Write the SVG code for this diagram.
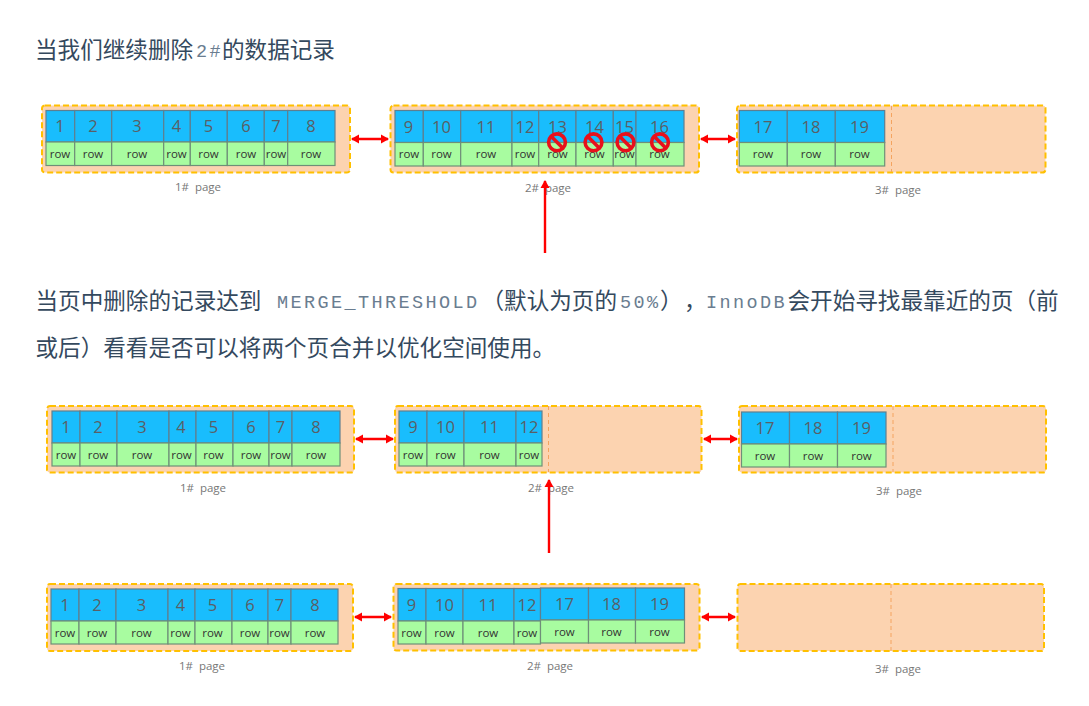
<svg xmlns="http://www.w3.org/2000/svg" width="1089" height="706" viewBox="0 0 1089 706">
<style>
.h{font-family:"Noto Sans CJK SC","Liberation Sans",sans-serif;font-size:22.6px;fill:#34495e}
.m{font-family:"Liberation Mono","Noto Sans CJK SC",monospace;font-size:18.5px;letter-spacing:2.4px;fill:#6a7d90}
.p{fill:#fcd3b0;stroke:#ffc000;stroke-width:2;stroke-dasharray:6 3}
.d{stroke:#f4a460;stroke-width:1;stroke-dasharray:4 3;fill:none}
.b{fill:#19bdfd;stroke:#5f7f8f;stroke-width:1.2}
.g{fill:#a8fca0;stroke:#6f8f78;stroke-width:1.2}
.n{font-family:"Open Sans","Liberation Sans",sans-serif;font-size:16.5px;fill:#5a5f66;text-anchor:middle}
.r{font-family:"Open Sans","Liberation Sans",sans-serif;font-size:11.5px;fill:#333;text-anchor:middle}
.c{font-family:"Open Sans","Liberation Sans",sans-serif;font-size:11.5px;fill:#777;text-anchor:middle;white-space:pre}
.a{stroke:#ff0000;stroke-width:2.4;fill:none}
.x circle{fill:none;stroke:#e8101c;stroke-width:3.6}
.x line{stroke:#e8101c;stroke-width:3.6}
</style>
<defs>
<marker id="ah" markerWidth="9" markerHeight="10" refX="7" refY="5" orient="auto-start-reverse" markerUnits="userSpaceOnUse"><path d="M0 0.5L8 5L0 9.5Z" fill="#ff0000"/></marker>
</defs>
<rect width="1089" height="706" fill="#fff"/>

<g id="text-1">
<text class="h" x="35" y="58">当我们继续删除</text>
<text class="m" x="196" y="57">2#</text>
<text class="h" x="222" y="58">的数据记录</text>
</g>
<g id="text-2">
<text class="h" x="35.500" y="309">当页中删除的记录达到</text>
<text class="m" x="277" y="308">MERGE_THRESHOLD</text>
<text class="h" x="481.500" y="309">（默认为页的</text>
<text class="m" x="620" y="308">50%</text>
<text class="h" x="660" y="309">）</text>
<text class="h" x="684" y="309">，</text>
<text class="m" x="706" y="308">InnoDB</text>
<text class="h" x="787.500" y="309">会开始寻找最靠近的页（前</text>
<text class="h" x="35.500" y="356">或后）看看是否可以将两个页合并以优化空间使用。</text>
</g>

<g id="r1-page1">
<rect class="p" x="42" y="105.5" width="308" height="67" rx="3"/>
<rect class="b" x="46" y="110.5" width="28.7" height="31.5"/><rect class="g" x="46" y="142" width="28.7" height="23.5"/><text class="n" x="60" y="132">1</text><text class="r" x="60" y="158">row</text>
<rect class="b" x="74.7" y="110.5" width="37" height="31.5"/><rect class="g" x="74.7" y="142" width="37" height="23.5"/><text class="n" x="93" y="132">2</text><text class="r" x="93" y="158">row</text>
<rect class="b" x="111.7" y="110.5" width="52" height="31.5"/><rect class="g" x="111.7" y="142" width="52" height="23.5"/><text class="n" x="137" y="132">3</text><text class="r" x="137" y="158">row</text>
<rect class="b" x="163.7" y="110.5" width="26.6" height="31.5"/><rect class="g" x="163.7" y="142" width="26.6" height="23.5"/><text class="n" x="176.5" y="132">4</text><text class="r" x="176.5" y="158">row</text>
<rect class="b" x="190.3" y="110.5" width="37" height="31.5"/><rect class="g" x="190.3" y="142" width="37" height="23.5"/><text class="n" x="208.5" y="132">5</text><text class="r" x="208.5" y="158">row</text>
<rect class="b" x="227.3" y="110.5" width="37" height="31.5"/><rect class="g" x="227.3" y="142" width="37" height="23.5"/><text class="n" x="246" y="132">6</text><text class="r" x="246" y="158">row</text>
<rect class="b" x="264.3" y="110.5" width="23.4" height="31.5"/><rect class="g" x="264.3" y="142" width="23.4" height="23.5"/><text class="n" x="276" y="132">7</text><text class="r" x="276" y="158">row</text>
<rect class="b" x="287.7" y="110.5" width="47.3" height="31.5"/><rect class="g" x="287.7" y="142" width="47.3" height="23.5"/><text class="n" x="311" y="132">8</text><text class="r" x="311" y="158">row</text>
<text class="c" x="198" y="191">1#  page</text>
</g>

<g id="r1-page2">
<rect class="p" x="390.5" y="105.5" width="308.5" height="67" rx="3"/>
<rect class="b" x="395" y="110.5" width="28.3" height="32"/><rect class="g" x="395" y="142.5" width="28.3" height="23.5"/><text class="n" x="408.5" y="133">9</text><text class="r" x="409" y="158">row</text>
<rect class="b" x="423.3" y="110.5" width="37.4" height="32"/><rect class="g" x="423.3" y="142.5" width="37.4" height="23.5"/><text class="n" x="441.5" y="133">10</text><text class="r" x="441.5" y="158">row</text>
<rect class="b" x="460.7" y="110.5" width="51.3" height="32"/><rect class="g" x="460.7" y="142.5" width="51.3" height="23.5"/><text class="n" x="486" y="133">11</text><text class="r" x="486" y="158">row</text>
<rect class="b" x="512" y="110.5" width="26.7" height="32"/><rect class="g" x="512" y="142.5" width="26.7" height="23.5"/><text class="n" x="525" y="133">12</text><text class="r" x="525" y="158">row</text>
<rect class="b" x="538.7" y="110.5" width="37.3" height="32"/><rect class="g" x="538.7" y="142.5" width="37.3" height="23.5"/><text class="n" x="557.5" y="133">13</text><text class="r" x="557.5" y="158">row</text>
<rect class="b" x="576" y="110.5" width="37.3" height="32"/><rect class="g" x="576" y="142.5" width="37.3" height="23.5"/><text class="n" x="594.5" y="133">14</text><text class="r" x="594.5" y="158">row</text>
<rect class="b" x="613.3" y="110.5" width="22.7" height="32"/><rect class="g" x="613.3" y="142.5" width="22.7" height="23.5"/><text class="n" x="624.5" y="133">15</text><text class="r" x="624.5" y="158">row</text>
<rect class="b" x="636" y="110.5" width="48" height="32"/><rect class="g" x="636" y="142.5" width="48" height="23.5"/><text class="n" x="659.5" y="133">16</text><text class="r" x="659.5" y="158">row</text>
<g class="x"><circle cx="557" cy="142.3" r="8.4"/><line x1="551" y1="136.3" x2="563" y2="148.3"/></g>
<g class="x"><circle cx="593.5" cy="142.3" r="8.4"/><line x1="587.5" y1="136.3" x2="599.5" y2="148.3"/></g>
<g class="x"><circle cx="625.5" cy="142.3" r="8.4"/><line x1="619.5" y1="136.3" x2="631.5" y2="148.3"/></g>
<g class="x"><circle cx="660" cy="142.3" r="8.4"/><line x1="654" y1="136.3" x2="666" y2="148.3"/></g>
<text class="c" x="548" y="192">2#  page</text>
</g>

<g id="r1-page3">
<rect class="p" x="737" y="105.5" width="308.5" height="67" rx="3"/>
<line class="d" x1="891.5" y1="106" x2="891.5" y2="172"/>
<rect class="b" x="739.3" y="110.5" width="48" height="32"/><rect class="g" x="739.3" y="142.5" width="48" height="23.5"/><text class="n" x="763" y="133">17</text><text class="r" x="763" y="158">row</text>
<rect class="b" x="787.3" y="110.5" width="48" height="32"/><rect class="g" x="787.3" y="142.5" width="48" height="23.5"/><text class="n" x="811" y="133">18</text><text class="r" x="811" y="158">row</text>
<rect class="b" x="835.3" y="110.5" width="49.4" height="32"/><rect class="g" x="835.3" y="142.5" width="49.4" height="23.5"/><text class="n" x="859.5" y="133">19</text><text class="r" x="859.5" y="158">row</text>
<text class="c" x="898" y="194">3#  page</text>
</g>

<g id="r2-page1">
<rect class="p" x="47" y="406" width="307" height="66.5" rx="3"/>
<rect class="b" x="52" y="411" width="28" height="32"/><rect class="g" x="52" y="443" width="28" height="23"/><text class="n" x="66" y="433">1</text><text class="r" x="66" y="459">row</text>
<rect class="b" x="80" y="411" width="37" height="32"/><rect class="g" x="80" y="443" width="37" height="23"/><text class="n" x="98" y="433">2</text><text class="r" x="98" y="459">row</text>
<rect class="b" x="117" y="411" width="52" height="32"/><rect class="g" x="117" y="443" width="52" height="23"/><text class="n" x="142" y="433">3</text><text class="r" x="142" y="459">row</text>
<rect class="b" x="169" y="411" width="27" height="32"/><rect class="g" x="169" y="443" width="27" height="23"/><text class="n" x="181" y="433">4</text><text class="r" x="181.5" y="459">row</text>
<rect class="b" x="196" y="411" width="37" height="32"/><rect class="g" x="196" y="443" width="37" height="23"/><text class="n" x="213.500" y="433">5</text><text class="r" x="213.500" y="459">row</text>
<rect class="b" x="233" y="411" width="36" height="32"/><rect class="g" x="233" y="443" width="36" height="23"/><text class="n" x="251" y="433">6</text><text class="r" x="251" y="459">row</text>
<rect class="b" x="269" y="411" width="23" height="32"/><rect class="g" x="269" y="443" width="23" height="23"/><text class="n" x="280.500" y="433">7</text><text class="r" x="280.500" y="459">row</text>
<rect class="b" x="292" y="411" width="48" height="32"/><rect class="g" x="292" y="443" width="48" height="23"/><text class="n" x="316" y="433">8</text><text class="r" x="316" y="459">row</text>
<text class="c" x="203" y="492">1#  page</text>
</g>

<g id="r2-page2">
<rect class="p" x="395" y="406" width="306.5" height="66.5" rx="3"/>
<line class="d" x1="548.5" y1="406" x2="548.5" y2="472"/>
<rect class="b" x="399" y="411" width="28" height="32"/><rect class="g" x="399" y="443" width="28" height="23"/><text class="n" x="413" y="433">9</text><text class="r" x="413" y="459">row</text>
<rect class="b" x="427" y="411" width="37" height="32"/><rect class="g" x="427" y="443" width="37" height="23"/><text class="n" x="445.500" y="433">10</text><text class="r" x="445.500" y="459">row</text>
<rect class="b" x="464" y="411" width="52" height="32"/><rect class="g" x="464" y="443" width="52" height="23"/><text class="n" x="489.500" y="433">11</text><text class="r" x="489.500" y="459">row</text>
<rect class="b" x="516" y="411" width="26" height="32"/><rect class="g" x="516" y="443" width="26" height="23"/><text class="n" x="529" y="433">12</text><text class="r" x="529" y="459">row</text>
<text class="c" x="551" y="492">2#  page</text>
</g>

<g id="r2-page3">
<rect class="p" x="739" y="406" width="307" height="66.5" rx="3"/>
<line class="d" x1="893" y1="406" x2="893" y2="472"/>
<rect class="b" x="741.5" y="412" width="48" height="32"/><rect class="g" x="741.5" y="444" width="48" height="23"/><text class="n" x="765" y="434">17</text><text class="r" x="765" y="460">row</text>
<rect class="b" x="789.5" y="412" width="48" height="32"/><rect class="g" x="789.5" y="444" width="48" height="23"/><text class="n" x="813" y="434">18</text><text class="r" x="813" y="460">row</text>
<rect class="b" x="837.5" y="412" width="48.5" height="32"/><rect class="g" x="837.5" y="444" width="48.5" height="23"/><text class="n" x="861.500" y="434">19</text><text class="r" x="861.500" y="460">row</text>
<text class="c" x="899" y="495">3#  page</text>
</g>

<g id="r3-page1">
<rect class="p" x="47" y="584" width="306" height="67" rx="3"/>
<rect class="b" x="51" y="589" width="28" height="32"/><rect class="g" x="51" y="621" width="28" height="23"/><text class="n" x="65" y="611">1</text><text class="r" x="65" y="637">row</text>
<rect class="b" x="79" y="589" width="37" height="32"/><rect class="g" x="79" y="621" width="37" height="23"/><text class="n" x="97" y="611">2</text><text class="r" x="97" y="637">row</text>
<rect class="b" x="116" y="589" width="52" height="32"/><rect class="g" x="116" y="621" width="52" height="23"/><text class="n" x="141.500" y="611">3</text><text class="r" x="141.500" y="637">row</text>
<rect class="b" x="168" y="589" width="27" height="32"/><rect class="g" x="168" y="621" width="27" height="23"/><text class="n" x="180.500" y="611">4</text><text class="r" x="180.500" y="637">row</text>
<rect class="b" x="195" y="589" width="37" height="32"/><rect class="g" x="195" y="621" width="37" height="23"/><text class="n" x="212.500" y="611">5</text><text class="r" x="212.500" y="637">row</text>
<rect class="b" x="232" y="589" width="36" height="32"/><rect class="g" x="232" y="621" width="36" height="23"/><text class="n" x="250" y="611">6</text><text class="r" x="250" y="637">row</text>
<rect class="b" x="268" y="589" width="23" height="32"/><rect class="g" x="268" y="621" width="23" height="23"/><text class="n" x="279.500" y="611">7</text><text class="r" x="279.500" y="637">row</text>
<rect class="b" x="291" y="589" width="47" height="32"/><rect class="g" x="291" y="621" width="47" height="23"/><text class="n" x="315" y="611">8</text><text class="r" x="315" y="637">row</text>
<text class="c" x="202" y="670">1#  page</text>
</g>

<g id="r3-page2">
<rect class="p" x="393.500" y="584" width="306" height="66.500" rx="3"/>
<rect class="b" x="398" y="588.500" width="28" height="32.500"/><rect class="g" x="398" y="621" width="28" height="23"/><text class="n" x="411.500" y="611">9</text><text class="r" x="411.500" y="637">row</text>
<rect class="b" x="426" y="588.500" width="37" height="32.500"/><rect class="g" x="426" y="621" width="37" height="23"/><text class="n" x="444.500" y="611">10</text><text class="r" x="444.500" y="637">row</text>
<rect class="b" x="463" y="588.500" width="51" height="32.500"/><rect class="g" x="463" y="621" width="51" height="23"/><text class="n" x="488" y="611">11</text><text class="r" x="488" y="637">row</text>
<rect class="b" x="514" y="588.500" width="26.500" height="32.500"/><rect class="g" x="514" y="621" width="26.500" height="23"/><text class="n" x="527" y="611">12</text><text class="r" x="527" y="637">row</text>
<rect class="b" x="540.500" y="588" width="48" height="32"/><rect class="g" x="540.500" y="620" width="48" height="23"/><text class="n" x="564.500" y="610">17</text><text class="r" x="564.500" y="636">row</text>
<rect class="b" x="588.500" y="588" width="47" height="32"/><rect class="g" x="588.500" y="620" width="47" height="23"/><text class="n" x="611.500" y="610">18</text><text class="r" x="611.500" y="636">row</text>
<rect class="b" x="635.500" y="588" width="49" height="32"/><rect class="g" x="635.500" y="620" width="49" height="23"/><text class="n" x="659.500" y="610">19</text><text class="r" x="659.500" y="636">row</text>
<text class="c" x="550" y="670">2#  page</text>
</g>

<g id="r3-page3">
<rect class="p" x="737.500" y="584" width="306.500" height="67" rx="3"/>
<line class="d" x1="891" y1="584" x2="891" y2="651"/>
<text class="c" x="898" y="673">3#  page</text>
</g>

<g id="connectors">
<line class="a" x1="352" y1="139" x2="388" y2="139" marker-start="url(#ah)" marker-end="url(#ah)"/>
<line class="a" x1="701" y1="139" x2="735" y2="139" marker-start="url(#ah)" marker-end="url(#ah)"/>
<line class="a" x1="356" y1="439" x2="393" y2="439" marker-start="url(#ah)" marker-end="url(#ah)"/>
<line class="a" x1="704" y1="439" x2="737" y2="439" marker-start="url(#ah)" marker-end="url(#ah)"/>
<line class="a" x1="355" y1="617" x2="391" y2="617" marker-start="url(#ah)" marker-end="url(#ah)"/>
<line class="a" x1="702" y1="617" x2="735" y2="617" marker-start="url(#ah)" marker-end="url(#ah)"/>
<line class="a" x1="545" y1="253" x2="545" y2="181" marker-end="url(#ah)"/>
<line class="a" x1="549" y1="553" x2="549" y2="480" marker-end="url(#ah)"/>
</g>
</svg>
